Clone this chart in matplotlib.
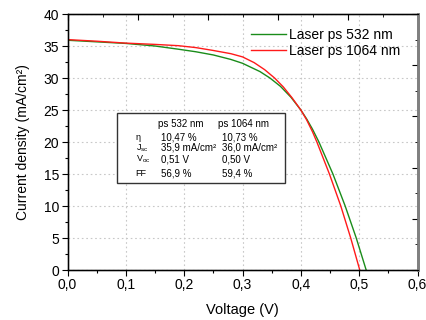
import matplotlib
matplotlib.use("Agg")
import matplotlib.pyplot as plt
from matplotlib.ticker import MultipleLocator, FuncFormatter
import matplotlib.patches as mpatches

plt.rcParams['font.family'] = ['Liberation Sans', 'DejaVu Sans']
plt.rcParams['mathtext.fontset'] = 'custom'
plt.rcParams['mathtext.rm'] = 'Liberation Sans'

# Data
v_532 = [0.0, 0.05, 0.10, 0.15, 0.19, 0.22, 0.25, 0.28, 0.30, 0.33, 0.347, 0.365, 0.383, 0.40, 0.41, 0.42, 0.431, 0.455, 0.476, 0.495, 0.512]
j_532 = [35.9, 35.65, 35.4, 35.0, 34.5, 34.1, 33.6, 32.9, 32.3, 31.0, 30.0, 28.7, 27.0, 25.0, 23.6, 22.0, 20.0, 15.0, 10.0, 5.0, 0.0]
v_1064 = [0.0, 0.05, 0.10, 0.15, 0.19, 0.22, 0.25, 0.28, 0.30, 0.32, 0.338, 0.355, 0.37, 0.385, 0.40, 0.41, 0.42, 0.4275, 0.449, 0.4685, 0.4855, 0.501]
j_1064 = [36.0, 35.75, 35.45, 35.25, 35.05, 34.75, 34.3, 33.8, 33.3, 32.4, 31.3, 30.0, 28.6, 26.9, 25.0, 23.45, 21.6, 20.0, 15.0, 10.0, 5.0, 0.0]
labels = ['Laser ps 532 nm', 'Laser ps 1064 nm']
colors = ['#1a8c1a', '#ff1a1a']

table_head = ['ps 532 nm', 'ps 1064 nm']
table_rows = ['\u03b7', r'J$_{\mathrm{sc}}$', r'V$_{\mathrm{oc}}$', 'FF']
table_532 = ['10,47 %', '35,9 mA/cm\u00b2', '0,51 V', '56,9 %']
table_1064 = ['10,73 %', '36,0 mA/cm\u00b2', '0,50 V', '59,4 %']

fig = plt.figure(figsize=(4.26, 3.20), dpi=100)
ax = fig.add_axes([67.5/426, 1-270/320, 350/426, 256/320])

ax.plot(v_532, j_532, color=colors[0], lw=1.0, label=labels[0])
ax.plot(v_1064, j_1064, color=colors[1], lw=1.0, label=labels[1])

ax.set_xlim(0, 0.6)
ax.set_ylim(0, 40)
ax.xaxis.set_major_locator(MultipleLocator(0.1))
ax.xaxis.set_minor_locator(MultipleLocator(0.05))
ax.yaxis.set_major_locator(MultipleLocator(5))
ax.yaxis.set_minor_locator(MultipleLocator(2.5))
ax.xaxis.set_major_formatter(FuncFormatter(lambda x, p: f"{x:.1f}".replace('.', ',')))
ax.tick_params(axis='both', which='major', direction='out', length=4, width=0.8, labelsize=10, pad=2)
ax.tick_params(axis='both', which='minor', direction='out', length=2.5, width=0.8)
ax.grid(True, which='major', ls=(0, (1.5, 2.5)), color='#c8c8c8', lw=0.8)
ax.set_xlabel('Voltage (V)', fontsize=10.5, labelpad=8)
ax.set_ylabel('Current density (mA/cm\u00b2)', fontsize=10, labelpad=10)
ax.spines['right'].set_color('#808080')
ax.spines['right'].set_linewidth(1.8)
for s in ['left', 'bottom', 'top']:
    ax.spines[s].set_linewidth(1.0)

# top & right inward ticks (no labels)
axt = ax.twiny()
axt.set_xlim(0, 0.6)
axt.xaxis.set_major_locator(MultipleLocator(0.12))
axt.xaxis.set_minor_locator(MultipleLocator(0.06))
axt.tick_params(axis='x', which='both', direction='in', labeltop=False)
axt.tick_params(axis='x', which='major', length=4)
axt.tick_params(axis='x', which='minor', length=2.5)
axr = ax.twinx()
axr.set_ylim(0, 40)
axr.yaxis.set_major_locator(MultipleLocator(8))
axr.yaxis.set_minor_locator(MultipleLocator(4))
axr.tick_params(axis='y', which='both', direction='in', labelright=False)
axr.tick_params(axis='y', which='major', length=4)
axr.tick_params(axis='y', which='minor', length=2.5)
for a in (axt, axr):
    a.spines['right'].set_color('#808080')
    a.spines['right'].set_linewidth(1.8)

leg = ax.legend(loc='upper left', bbox_to_anchor=((246-68)/350, (270-22)/256), frameon=False,
                fontsize=10, handlelength=2.5, handletextpad=0.25, labelspacing=0.2, borderaxespad=0)

# inset table
def px(x, y):
    return ((x-68)/350, (270-y)/256)

x0, y0 = px(117, 183)
x1, y1 = px(285, 113)
ax.add_patch(mpatches.Rectangle((x0, y0), x1-x0, y1-y0, transform=ax.transAxes,
                                fill=True, facecolor='white', edgecolor='#333333', lw=1.0, zorder=5))
fs = 7
ax.text(*px(158, 124), table_head[0], transform=ax.transAxes, fontsize=fs, va='center', ha='left', zorder=6)
ax.text(*px(219, 124), table_head[1], transform=ax.transAxes, fontsize=fs, va='center', ha='left', zorder=6)
row_y = [137.3, 147.8, 159, 174]
for lab, a, b, yy in zip(table_rows, table_532, table_1064, row_y):
    ax.text(*px(136, yy), lab, transform=ax.transAxes, fontsize=6.5, va='center', ha='left', zorder=6)
    ax.text(*px(161.5, yy), a, transform=ax.transAxes, fontsize=fs, va='center', ha='left', zorder=6)
    ax.text(*px(222.5, yy), b, transform=ax.transAxes, fontsize=fs, va='center', ha='left', zorder=6)

fig.savefig('out.png', dpi=100)
